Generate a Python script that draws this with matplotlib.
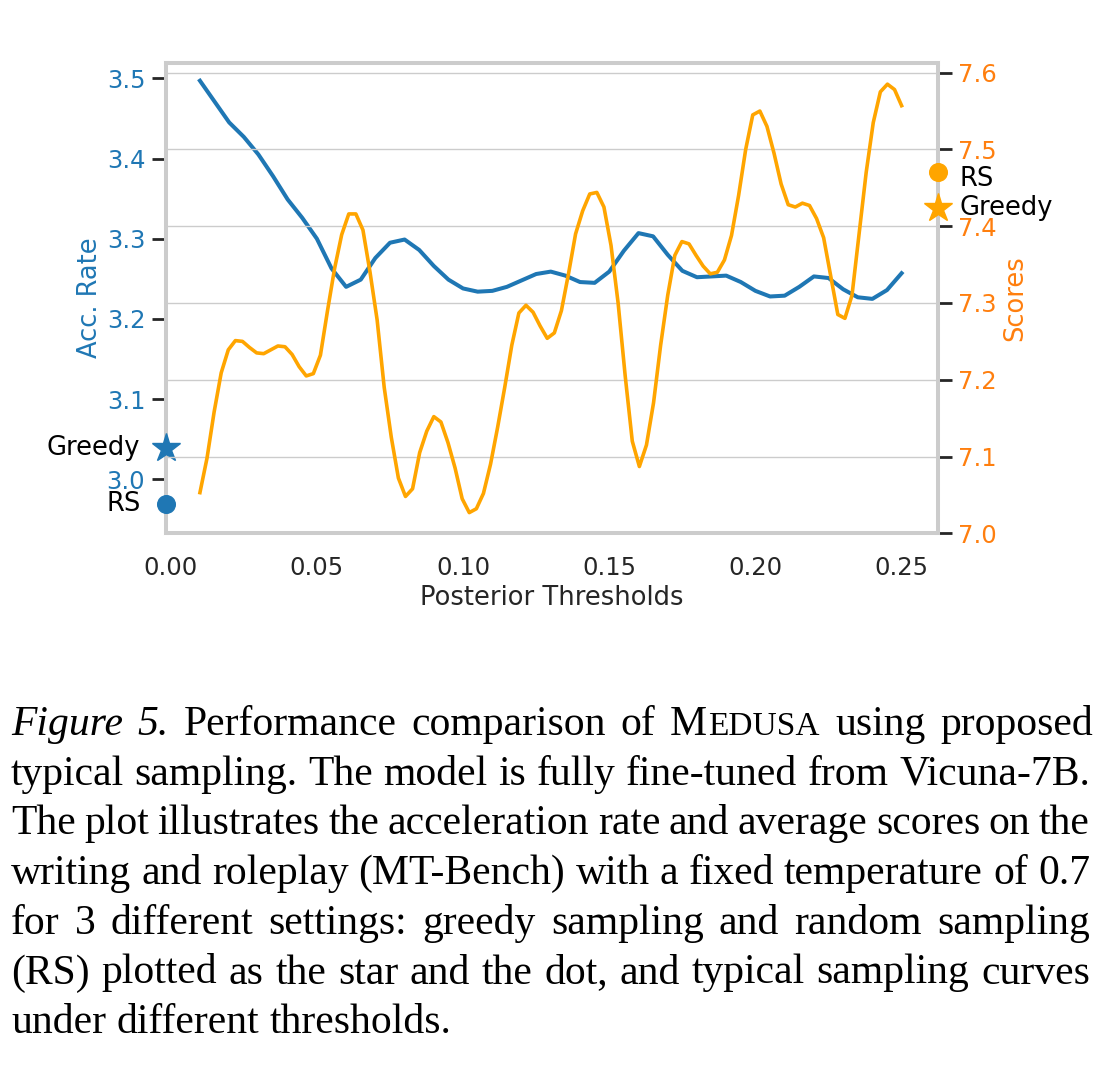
import numpy as np
import matplotlib
matplotlib.use('Agg')
import matplotlib.pyplot as plt
import matplotlib.transforms as mtransforms

# ── Data ──────────────────────────────────────────────
thr_acc = np.arange(0.01, 0.2501, 0.005)          # 49 thresholds
acc_rate = [3.497, 3.471, 3.445, 3.427, 3.405, 3.378, 3.349, 3.326, 3.300, 3.263,
            3.240, 3.249, 3.276, 3.295, 3.299, 3.286, 3.266, 3.249, 3.238, 3.234,
            3.235, 3.240, 3.248, 3.256, 3.259, 3.254, 3.246, 3.245, 3.259, 3.285,
            3.307, 3.303, 3.280, 3.260, 3.252, 3.253, 3.254, 3.246, 3.235, 3.228,
            3.229, 3.240, 3.253, 3.251, 3.237, 3.227, 3.225, 3.236, 3.257]

thr_score = np.linspace(0.01, 0.25, 100)          # 100 thresholds
scores = [7.053, 7.098, 7.158, 7.209, 7.239, 7.251, 7.250, 7.242, 7.235, 7.234,
          7.239, 7.244, 7.243, 7.233, 7.217, 7.205, 7.208, 7.232, 7.290, 7.345,
          7.389, 7.416, 7.416, 7.395, 7.340, 7.278, 7.190, 7.125, 7.072, 7.048,
          7.058, 7.105, 7.133, 7.152, 7.145, 7.118, 7.085, 7.045, 7.027, 7.032,
          7.052, 7.090, 7.138, 7.190, 7.245, 7.287, 7.297, 7.288, 7.270, 7.254,
          7.261, 7.290, 7.338, 7.390, 7.420, 7.442, 7.444, 7.425, 7.375, 7.300,
          7.205, 7.120, 7.087, 7.115, 7.170, 7.245, 7.310, 7.362, 7.380, 7.377,
          7.362, 7.348, 7.338, 7.340, 7.356, 7.388, 7.440, 7.500, 7.545, 7.550,
          7.530, 7.495, 7.455, 7.428, 7.425, 7.430, 7.427, 7.410, 7.385, 7.335,
          7.285, 7.280, 7.310, 7.390, 7.470, 7.535, 7.575, 7.585, 7.578, 7.557]

greedy_acc, rs_acc = 3.039, 2.969
greedy_score, rs_score = 7.424, 7.470

x_ticks = [0.00, 0.05, 0.10, 0.15, 0.20, 0.25]
acc_ticks = [3.0, 3.1, 3.2, 3.3, 3.4, 3.5]
score_ticks = [7.0, 7.1, 7.2, 7.3, 7.4, 7.5, 7.6]

caption_lines = [
    'Figure 5. Performance comparison of MEDUSA using proposed',
    'typical sampling. The model is fully fine-tuned from Vicuna-7B.',
    'The plot illustrates the acceleration rate and average scores on the',
    'writing and roleplay (MT-Bench) with a fixed temperature of 0.7',
    'for 3 different settings: greedy sampling and random sampling',
    '(RS) plotted as the star and the dot, and typical sampling curves',
    'under different thresholds.',
]

BLUE = '#1f77b4'
ORANGE = '#FFA500'
ORANGE_TXT = '#ff7f0e'
GRID = '#cccccc'
DARK = '#262626'

# ── Plot ──────────────────────────────────────────────
W, H = 1118, 1066
fig = plt.figure(figsize=(W / 100, H / 100), dpi=100)
ax = fig.add_axes([0.1485, 0.4997, 0.6909, 0.4415])
ax2 = ax.twinx()

ax.plot(thr_acc, acc_rate, color=BLUE, lw=2.9, solid_joinstyle='round')
ax2.plot(thr_score, scores, color=ORANGE, lw=2.6, solid_joinstyle='round')

ax.set_xlim(-0.0016, 0.2626)
ax.set_ylim(2.9327, 3.5195)
ax2.set_ylim(7.0, 7.613)

ax.set_xticks(x_ticks, [f'{t:.2f}' for t in x_ticks])
ax.set_yticks(acc_ticks, [f'{t:.1f}' for t in acc_ticks])
ax2.set_yticks(score_ticks, [f'{t:.1f}' for t in score_ticks])

ax.grid(False)
ax2.grid(False)
ax2.yaxis.grid(True, color=GRID, lw=1.0)
ax2.set_axisbelow(True)

for s in ax.spines.values():
    s.set_color(GRID)
    s.set_linewidth(2.9)
ax.spines['right'].set_visible(False)
for name, s in ax2.spines.items():
    s.set_color(GRID)
    s.set_linewidth(2.9)
    s.set_visible(name == 'right')

ax.tick_params(axis='x', length=0, pad=16, labelsize=17.5, labelcolor=DARK)
ax.tick_params(axis='y', length=10, width=2, color=DARK, pad=5,
               labelsize=17.5, labelcolor=BLUE)
ax2.tick_params(axis='y', length=10, width=2, color=DARK, pad=4,
                labelsize=17.5, labelcolor=ORANGE_TXT)

ax.set_xlabel('Posterior Thresholds', fontsize=18.5, color=DARK, labelpad=4)
ax.set_ylabel('Acc. Rate', fontsize=18.5, color=BLUE)
ax.yaxis.set_label_coords(-0.0816, 0.5)
ax2.set_ylabel('Scores', fontsize=18.5, color=ORANGE_TXT)
ax2.yaxis.set_label_coords(1.0822, 0.5)

# greedy / random sampling markers on the axis edges
tl = mtransforms.blended_transform_factory(ax.transAxes, ax.transData)
tr = mtransforms.blended_transform_factory(ax2.transAxes, ax2.transData)
ax.plot([0], [greedy_acc], marker='*', ms=21, color=BLUE, transform=tl,
        clip_on=False, zorder=6, ls='none')
ax.plot([0], [rs_acc], marker='o', ms=12.7, color=BLUE, transform=tl,
        clip_on=False, zorder=6, ls='none')
ax2.plot([1], [greedy_score], marker='*', ms=21, color=ORANGE, transform=tr,
         clip_on=False, zorder=6, ls='none')
ax2.plot([1], [rs_score], marker='o', ms=12.7, color=ORANGE, transform=tr,
         clip_on=False, zorder=6, ls='none')

ax.annotate('Greedy', xy=(0, greedy_acc), xycoords=tl, xytext=(-19, 0),
            textcoords='offset points', ha='right', va='center', fontsize=18.5)
ax.annotate('RS', xy=(0, rs_acc), xycoords=tl, xytext=(-18.5, 0),
            textcoords='offset points', ha='right', va='center', fontsize=18.5)
ax2.annotate('Greedy', xy=(1, greedy_score), xycoords=tr, xytext=(15, 0),
             textcoords='offset points', ha='left', va='center', fontsize=18.5)
ax2.annotate('RS', xy=(1, rs_score), xycoords=tr, xytext=(15, -5),
             textcoords='offset points', ha='left', va='center', fontsize=18.5)

# ── Caption (justified, Times-like serif) ─────────────
CAP = 30
special = {
    'Figure': [('Figure', 'italic', 1.0)],
    '5.': [('5.', 'italic', 1.0)],
    'MEDUSA': [('M', 'normal', 1.0), ('EDUSA', 'normal', 0.8)],
}
X0, X1 = 11, 1090
ident = mtransforms.IdentityTransform()
renderer = fig.canvas.get_renderer()
for i, line in enumerate(caption_lines):
    y = H - (735 + i * 49.7)
    words = []
    for w in line.split(' '):
        pieces = []
        for txt, style, sc in special.get(w, [(w, 'normal', 1.0)]):
            t = fig.text(0, y, txt, transform=ident, family='Liberation Serif',
                         style=style, fontsize=CAP * sc, va='baseline', ha='left')
            pieces.append((t, t.get_window_extent(renderer).width))
        words.append(pieces)
    total = sum(wd for pcs in words for _, wd in pcs)
    if i < len(caption_lines) - 1:
        gap = (X1 - X0 - total) / (len(words) - 1)
    else:
        gap = 0.25 * CAP * 100 / 72
    x = X0
    for pcs in words:
        for t, wd in pcs:
            t.set_x(x)
            x += wd + (1.5 if len(pcs) > 1 else 0)
        x += gap

fig.savefig('out.png', dpi=100)
